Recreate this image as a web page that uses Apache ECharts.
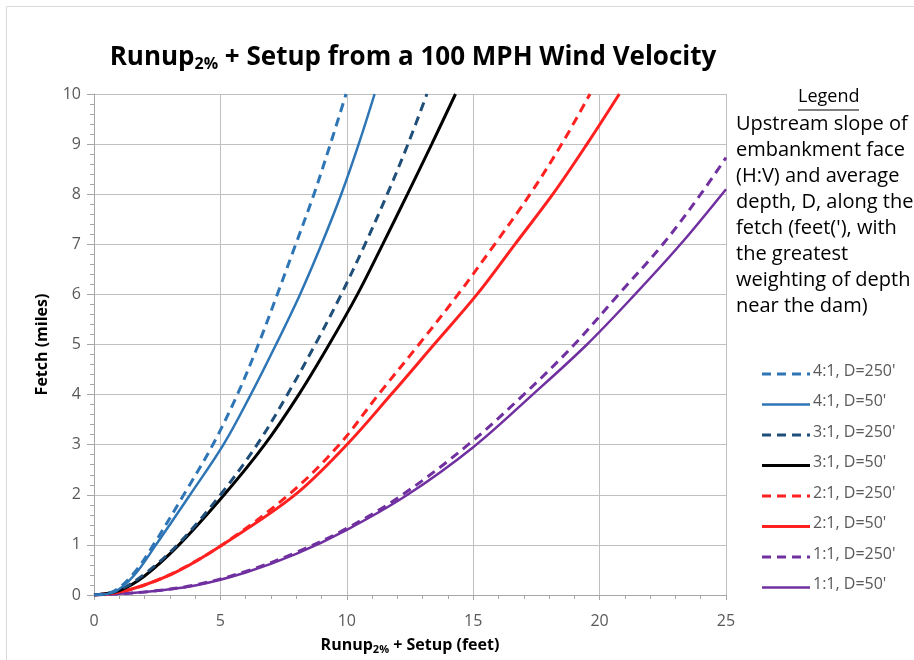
<!DOCTYPE html>
<html>
<head>
<meta charset="utf-8">
<script src="https://cdn.jsdelivr.net/npm/echarts@6/dist/echarts.min.js"></script>
<style>
html,body{margin:0;padding:0;background:#fff;}
#chart{width:914px;height:660px;}
</style>
</head>
<body>
<div id="chart"></div>
<script>
// ---- Data: [runup + setup (feet), fetch (miles)] ----
const seriesNames = ["4:1, D=250'", "4:1, D=50'", "3:1, D=250'", "3:1, D=50'", "2:1, D=250'", "2:1, D=50'", "1:1, D=250'", "1:1, D=50'"];

const s41_250 = [[0,0],[0.8,0.08],[1.6,0.45],[2.35,1],[3.55,2],[4.7,3],[5.67,4],[6.5,5],[7.25,6],[7.98,7],[8.7,8],[9.35,9],[9.97,10]];
const s41_50  = [[0,0],[0.8,0.06],[1.6,0.4],[2.45,1],[3.8,2],[5.12,3],[6.2,4],[7.2,5],[8.15,6],[9.0,7],[9.78,8],[10.47,9],[11.1,10]];
const s31_250 = [[0,0],[1,0.1],[2,0.42],[3.3,1],[5.0,2],[6.45,3],[7.65,4],[8.75,5],[9.78,6],[10.72,7],[11.6,8],[12.42,9],[13.17,10]];
const s31_50  = [[0,0],[1,0.09],[2,0.38],[3.36,1],[5.15,2],[6.75,3],[8.1,4],[9.3,5],[10.42,6],[11.42,7],[12.4,8],[13.36,9],[14.3,10]];
const s21_250 = [[0,0],[1,0.06],[2,0.2],[3.3,0.48],[5.07,1],[7.7,2],[9.7,3],[11.25,4],[12.85,5],[14.4,6],[15.85,7],[17.25,8],[18.5,9],[19.62,10]];
const s21_50  = [[0,0],[1,0.06],[2,0.2],[3.3,0.47],[5.07,1],[7.95,2],[10.0,3],[11.75,4],[13.45,5],[15.15,6],[16.65,7],[18.15,8],[19.5,9],[20.78,10]];
const s11_250 = [[0,0],[2,0.06],[4,0.2],[6,0.47],[8,0.85],[10,1.33],[12.2,2],[14.8,3],[17.0,4],[19.0,5],[20.75,6],[22.5,7],[24.0,8],[25,8.73]];
const s11_50  = [[0,0],[2,0.06],[4,0.19],[6,0.45],[8,0.82],[10,1.3],[12.4,2],[15,2.95],[17.35,4],[19.5,5],[21.4,6],[23.2,7],[25,8.1]];

const xTicks = [0, 5, 10, 15, 20, 25];
const yTicks = [0, 1, 2, 3, 4, 5, 6, 7, 8, 9, 10];

const legendLines = [
  "Upstream slope of",
  "embankment face",
  "(H:V) and average",
  "depth, D, along the",
  "fetch (feet('), with",
  "the greatest",
  "weighting of depth",
  "near the dam)"
];

// ---- Styles ----
const FONT = "'Open Sans', 'Liberation Sans', sans-serif";
const styles = [
  {color:'#2E75B6', dash:[9,6], width:3},
  {color:'#2E75B6', dash:'solid', width:2.5},
  {color:'#1F4E79', dash:[9,6], width:3},
  {color:'#000000', dash:'solid', width:3},
  {color:'#FF2020', dash:[9,6], width:3},
  {color:'#FF2020', dash:'solid', width:3},
  {color:'#7030A0', dash:[9,6], width:3},
  {color:'#7030A0', dash:'solid', width:2.5}
];
const allData = [s41_250, s41_50, s31_250, s31_50, s21_250, s21_50, s11_250, s11_50];

const series = allData.map((d, i) => ({
  name: seriesNames[i],
  type: 'line',
  data: d,
  smooth: 0.35,
  symbol: 'none',
  showSymbol: false,
  clip: true,
  lineStyle: {color: styles[i].color, width: styles[i].width, type: styles[i].dash},
  itemStyle: {color: styles[i].color},
  z: 10 - i
}));

const chart = echarts.init(document.getElementById('chart'), null, {renderer: 'canvas'});

const graphics = [];
graphics.push({
  type: 'rect', shape: {x: 6.5, y: 6.5, width: 940, height: 700},
  style: {fill: null, stroke: '#d9d9d9', lineWidth: 1}, silent: true
});
graphics.push({
  type: 'text', left: 798, top: 88,
  style: {text: 'Legend', fill: '#000', font: "18px " + FONT}
});
graphics.push({
  type: 'line', shape: {x1: 798, y1: 110, x2: 859, y2: 110},
  style: {stroke: '#000', lineWidth: 1}
});
legendLines.forEach((t, i) => {
  graphics.push({
    type: 'text', left: 736, top: 114 + i * 26,
    style: {text: t, fill: '#000', font: "20px " + FONT}
  });
});
// series key
seriesNames.forEach((nm, i) => {
  const cy = 374 + i * 30.5;
  graphics.push({
    type: 'line', shape: {x1: 762, y1: cy, x2: 810, y2: cy},
    style: {stroke: styles[i].color, lineWidth: styles[i].width,
            lineDash: styles[i].dash === 'solid' ? null : styles[i].dash}
  });
  graphics.push({
    type: 'text', left: 813, top: cy - 11,
    style: {text: nm, fill: '#595959', font: "16px " + FONT}
  });
});

const option = {
  backgroundColor: '#fff',
  animation: false,
  title: {
    text: 'Runup{s|2%} + Setup from a 100 MPH Wind Velocity',
    left: 408, textAlign: 'center', top: 38,
    textStyle: {
      fontFamily: FONT, fontWeight: 'bold', fontSize: 26, color: '#000',
      rich: {s: {fontFamily: FONT, fontWeight: 'bold', fontSize: 16, color: '#000', padding: [13, 0, 0, 0]}}
    }
  },
  grid: {left: 94, right: 188, top: 94, bottom: 62, containLabel: false},
  xAxis: {
    type: 'value', min: 0, max: 25, interval: 5,
    name: 'Runup{s|2%} + Setup (feet)',
    nameLocation: 'middle', nameGap: 41,
    nameTextStyle: {
      fontFamily: FONT, fontWeight: 'bold', fontSize: 16, color: '#000',
      rich: {s: {fontFamily: FONT, fontWeight: 'bold', fontSize: 11, color: '#000', padding: [8, 0, 0, 0]}}
    },
    axisLine: {show: true, lineStyle: {color: '#a6a6a6', width: 1}},
    axisTick: {show: true, inside: false, length: 5, lineStyle: {color: '#a6a6a6'}},
    minorTick: {show: true, splitNumber: 5, length: 4, lineStyle: {color: '#a6a6a6'}},
    axisLabel: {color: '#595959', fontSize: 16, fontFamily: FONT, margin: 18,
      formatter: v => xTicks.indexOf(v) >= 0 ? String(v) : ''},
    splitLine: {show: true, lineStyle: {color: '#c0c0c0', width: 1}}
  },
  yAxis: {
    type: 'value', min: 0, max: 10, interval: 1,
    name: 'Fetch (miles)',
    nameLocation: 'middle', nameGap: 44, nameRotate: 90,
    nameTextStyle: {fontFamily: FONT, fontWeight: 'bold', fontSize: 16, color: '#000'},
    axisLine: {show: true, lineStyle: {color: '#a6a6a6', width: 1}},
    axisTick: {show: true, inside: false, length: 7, lineStyle: {color: '#a6a6a6'}},
    minorTick: {show: true, splitNumber: 5, length: 4, lineStyle: {color: '#a6a6a6'}},
    axisLabel: {color: '#595959', fontSize: 16, fontFamily: FONT, margin: 13,
      formatter: v => yTicks.indexOf(v) >= 0 ? String(v) : ''},
    splitLine: {show: true, lineStyle: {color: '#c0c0c0', width: 1}}
  },
  graphic: graphics,
  series: series
};
chart.setOption(option);
</script>
</body>
</html>
